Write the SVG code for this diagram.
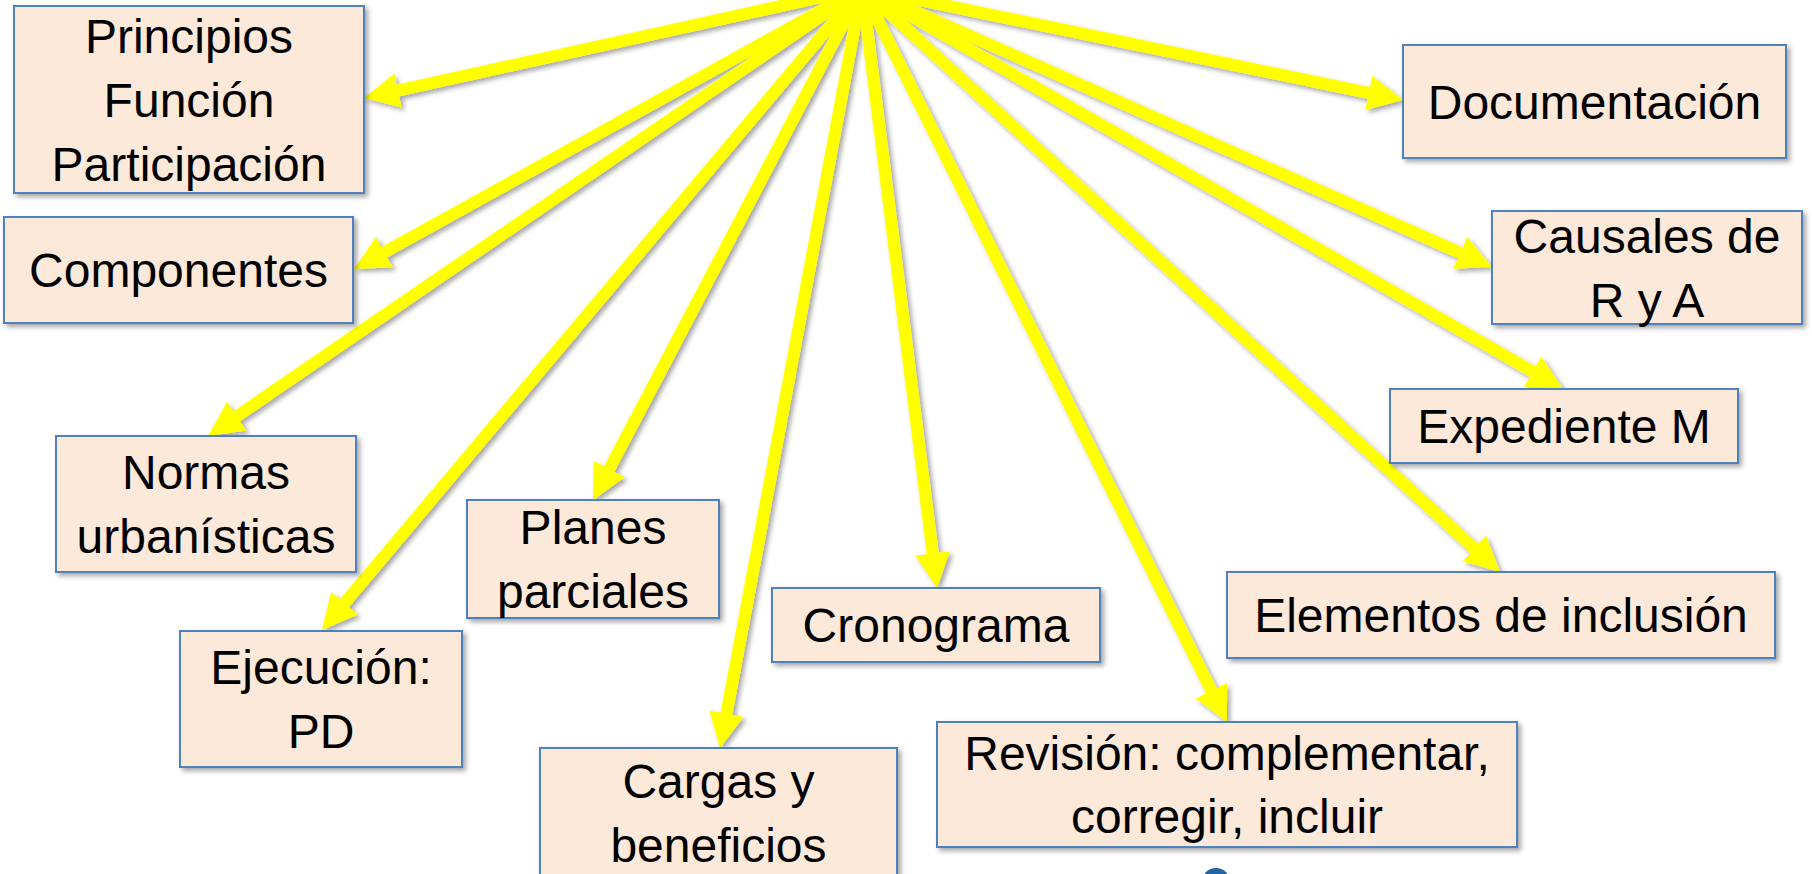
<svg xmlns="http://www.w3.org/2000/svg" width="1812" height="874" viewBox="0 0 1812 874">
  <defs>
    <filter id="shadow" x="-10%" y="-10%" width="120%" height="130%">
      <feDropShadow dx="3" dy="3" stdDeviation="2.5" flood-color="#000000" flood-opacity="0.35"/>
    </filter>
    <marker id="head" markerUnits="userSpaceOnUse" markerWidth="36" markerHeight="36" viewBox="0 -18 36 36" refX="2" refY="0" orient="auto">
      <path d="M0,-17.5 L35,0 L0,17.5 Z" fill="#FFFF00"/>
    </marker>
    <style>
      .arrow { stroke: #FFFF00; stroke-width: 12; fill: none; marker-end: url(#head); }
      .box { fill: #FDE9D9; stroke: #4F81BD; stroke-width: 2; filter: url(#shadow); }
      .lbl { font-family: "Liberation Sans", Arial, sans-serif; font-size: 48px; fill: #000000; text-anchor: middle; }
    </style>
  </defs>
  <rect x="0" y="0" width="1812" height="874" fill="#FFFFFF"/>

  <g id="connectors" filter="url(#shadow)">
    <line class="arrow" x1="862" y1="-12" x2="396.2" y2="90.9"/>
    <line class="arrow" x1="862" y1="-12" x2="382.9" y2="253.0"/>
    <line class="arrow" x1="862" y1="-12" x2="235.2" y2="417.3"/>
    <line class="arrow" x1="862" y1="-12" x2="343.2" y2="604.7"/>
    <line class="arrow" x1="862" y1="-12" x2="608.3" y2="470.8"/>
    <line class="arrow" x1="862" y1="-12" x2="726.1" y2="715.6"/>
    <line class="arrow" x1="862" y1="-12" x2="932.9" y2="555.3"/>
    <line class="arrow" x1="862" y1="-12" x2="1212.3" y2="692.5"/>
    <line class="arrow" x1="862" y1="-12" x2="1475.7" y2="549.7"/>
    <line class="arrow" x1="862" y1="-12" x2="1534.4" y2="372.6"/>
    <line class="arrow" x1="862" y1="-12" x2="1461.8" y2="253.6"/>
    <line class="arrow" x1="862" y1="-12" x2="1370.7" y2="93.3"/>
  </g>

  <g id="n-principios">
    <rect class="box" x="14" y="6" width="350" height="187"/>
    <text class="lbl" x="189" y="53">Principios</text>
    <text class="lbl" x="189" y="117">Función</text>
    <text class="lbl" x="189" y="181">Participación</text>
  </g>
  <g id="n-componentes">
    <rect class="box" x="4" y="217" width="349" height="106"/>
    <text class="lbl" x="178.5" y="287">Componentes</text>
  </g>
  <g id="n-normas">
    <rect class="box" x="56" y="436" width="300" height="136"/>
    <text class="lbl" x="206" y="489">Normas</text>
    <text class="lbl" x="206" y="553">urbanísticas</text>
  </g>
  <g id="n-ejecucion">
    <rect class="box" x="180" y="631" width="282" height="136"/>
    <text class="lbl" x="321" y="684">Ejecución:</text>
    <text class="lbl" x="321" y="748">PD</text>
  </g>
  <g id="n-planes">
    <rect class="box" x="467" y="500" width="252" height="118"/>
    <text class="lbl" x="593" y="544">Planes</text>
    <text class="lbl" x="593" y="608">parciales</text>
  </g>
  <g id="n-cargas">
    <rect class="box" x="540" y="748" width="357" height="135"/>
    <text class="lbl" x="718.5" y="798">Cargas y</text>
    <text class="lbl" x="718.5" y="862">beneficios</text>
  </g>
  <g id="n-cronograma">
    <rect class="box" x="772" y="588" width="328" height="74"/>
    <text class="lbl" x="936" y="642">Cronograma</text>
  </g>
  <g id="n-revision">
    <rect class="box" x="937" y="722" width="580" height="125"/>
    <text class="lbl" x="1227" y="770">Revisión: complementar,</text>
    <text class="lbl" x="1227" y="833">corregir, incluir</text>
  </g>
  <g id="n-elementos">
    <rect class="box" x="1227" y="572" width="548" height="86"/>
    <text class="lbl" x="1501" y="632">Elementos de inclusión</text>
  </g>
  <g id="n-expediente">
    <rect class="box" x="1390" y="389" width="348" height="74"/>
    <text class="lbl" x="1564" y="443">Expediente M</text>
  </g>
  <g id="n-causales">
    <rect class="box" x="1492" y="211" width="310" height="113"/>
    <text class="lbl" x="1647" y="253">Causales de</text>
    <text class="lbl" x="1647" y="317">R y A</text>
  </g>
  <g id="n-documentacion">
    <rect class="box" x="1403" y="45" width="383" height="113"/>
    <text class="lbl" x="1594.5" y="119">Documentación</text>
  </g>

  <circle cx="1216" cy="882" r="14" fill="#2563A8"/>
</svg>
